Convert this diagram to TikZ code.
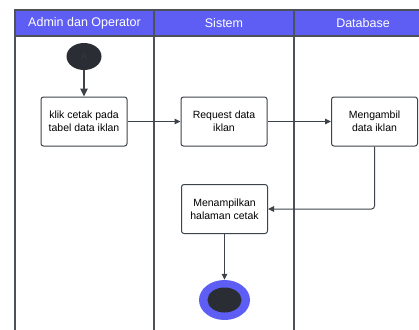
\documentclass[tikz,border=0pt]{standalone}
\usepackage{fontspec}
\setmainfont{Liberation Sans}
\usetikzlibrary{arrows.meta,shapes.geometric}
\definecolor{hdr}{HTML}{5E5EF5}
\definecolor{lanec}{HTML}{4D525A}
\definecolor{dark}{HTML}{2A2D33}
\definecolor{linec}{HTML}{3E434B}
\tikzset{
  act/.style={draw=linec, line width=1pt, rounded corners=2.5pt, fill=white, minimum width=86pt, minimum height=49pt, align=center, font=\fontsize{10.5}{12.7}\selectfont, inner sep=0pt},
  hdrtext/.style={text=white, font=\fontsize{12.5}{14}\selectfont},
  flow/.style={draw=linec, line width=1pt, -{Triangle[length=6pt,width=5.5pt]}},
  lane/.style={draw=lanec, line width=1.3pt}
}
\begin{document}
\begin{tikzpicture}[x=1pt,y=-1pt]
\useasboundingbox (0,0) rectangle (419,329);
\clip (0,0) rectangle (419,329);
\fill[white] (0,0) rectangle (419,329);
% header
\fill[hdr] (15,10) rectangle (440,36);
\draw[lane] (440,10) -- (15,10) -- (15,340);
\draw[lane] (15,36) -- (440,36);
\draw[lane] (154,10) -- (154,340);
\draw[lane] (294,10) -- (294,340);
\node[hdrtext] (h1) at (84.5,23) {Admin dan Operator};
\node[hdrtext] (h2) at (224,23) {Sistem};
\node[hdrtext] (h3) at (363,23) {Database};
% start
\node[ellipse, fill=dark, minimum width=35pt, minimum height=27pt, inner sep=0pt, text=black!78!white, font=\fontsize{9}{10}\selectfont] (start) at (84,56.5) {A};
% activities
\node[act] (a1) at (84,121.5) {klik cetak pada\\tabel data iklan};
\node[act] (a2) at (224,121.5) {Request data\\iklan};
\node[act] (a3) at (374.5,121.5) {Mengambil\\data iklan};
\node[act] (a4) at (224.5,209) {Menampilkan\\halaman cetak};
% end
\node[ellipse, fill=hdr, minimum width=51pt, minimum height=40pt, inner sep=0pt] (endo) at (224.5,300) {};
\node[ellipse, fill=dark, minimum width=34pt, minimum height=25pt, inner sep=0pt] (endi) at (224.5,300) {};
% flows
\draw[draw=linec, line width=1.6pt, -{Triangle[length=8pt,width=7.5pt]}] (start.south) -- (a1.north);
\draw[flow] (a1.east) -- (a2.west);
\draw[flow] (a2.east) -- (a3.west);
\draw[flow, rounded corners=3pt] (a3.south) |- (a4.east);
\draw[flow] (a4.south) -- (endo.north);
\end{tikzpicture}
\end{document}
